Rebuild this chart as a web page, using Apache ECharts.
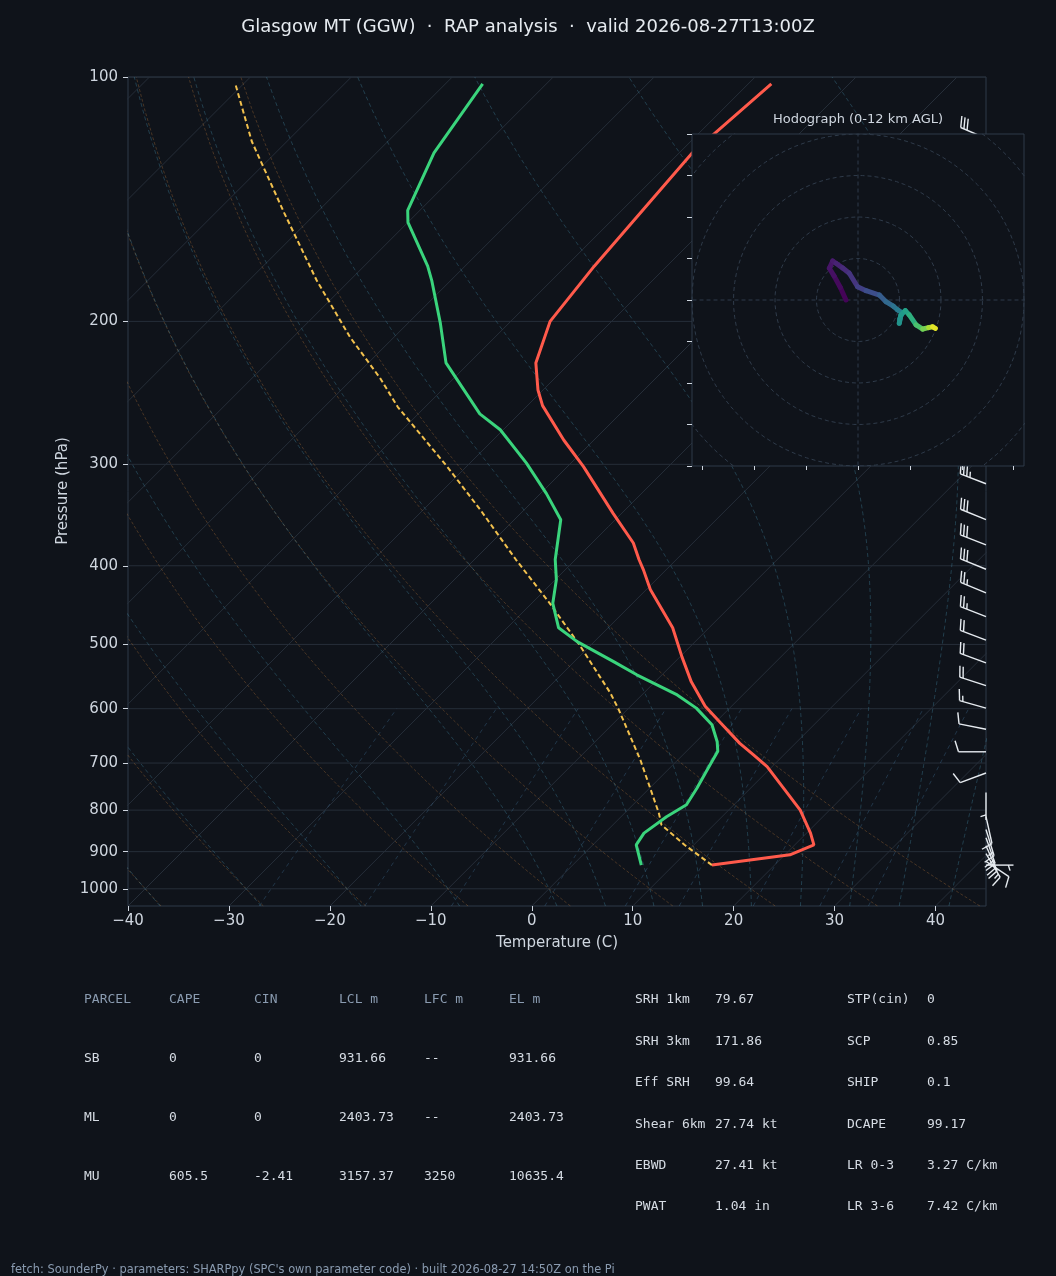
<!DOCTYPE html>
<html>
<head>
<meta charset="utf-8">
<script src="https://cdn.jsdelivr.net/npm/echarts@6/dist/echarts.min.js"></script>
<style>
  html, body { margin: 0; padding: 0; background: #0f131a; }
  #chart { width: 1056px; height: 1276px; }
</style>
</head>
<body>
<div id="chart"></div>
<script>
// ---- sounding (surface first) ----
const tempP = [935, 908, 883, 854, 800, 752, 707, 684, 662, 625, 596, 556, 518, 477, 428, 405, 393, 375, 345, 302, 280, 254, 243, 225, 200, 171, 124, 102];
const tempC = [13.8, 20.5, 21.9, 20.4, 17.1, 13.3, 9.5, 7.0, 4.5, 0.6, -2.6, -6.4, -9.8, -13.6, -19.6, -22.2, -23.7, -25.9, -30.8, -38.4, -43.0, -48.5, -50.5, -53.4, -56.1, -57.2, -58.7, -57.7];

const dewP = [935, 883, 854, 815, 788, 752, 714, 677, 659, 628, 599, 577, 545, 525, 496, 477, 445, 416, 393, 351, 326, 299, 272, 260, 225, 201, 178, 171, 151, 146, 124, 102];
const dewC = [6.8, 4.3, 3.9, 4.5, 5.3, 4.7, 3.9, 3.1, 2.1, -0.1, -3.3, -6.5, -12.5, -16.1, -21.7, -24.9, -27.9, -29.9, -32.0, -35.4, -39.4, -44.4, -50.3, -53.9, -62.3, -66.8, -71.9, -73.7, -80.0, -81.2, -84.3, -86.3];

const parcelP = [935, 883, 834, 807, 694, 602, 574, 501, 445, 393, 341, 302, 255, 235, 209, 178, 147, 120, 102];
const parcelC = [13.8, 9.1, 4.8, 3.4, -3.7, -10.8, -13.3, -21.1, -28.2, -35.9, -44.4, -51.9, -62.7, -67.3, -74.4, -83.3, -93.2, -103.5, -110.8];

// wind barbs (kt)
const barbP = [935, 925, 905, 885, 865, 845, 815, 761, 720, 678, 636, 599, 562, 527, 494, 462, 432, 404, 377, 351, 317, 290, 265, 243, 222, 203, 186, 170, 155, 142, 130, 119];
const barbU = [-6, -9, -9, -8, -6, -4, -2, 0, 9.4, 10, 10, 14, 17, 19, 21, 23, 24, 26, 28, 28, 31, 33, 35, 36, 37, 36, 35, 34, 33, 32, 30, 28];
const barbV = [0, 6, 15, 18, 17, 13, 9, 5, 3.5, 0, -2, -4, -5.5, -7, -8, -9, -10, -10.5, -11, -11.5, -12, -13, -13, -14, -14, -14, -13, -13, -13, -12, -12, -12];

// hodograph trace (kt) and height AGL (km)
const hodoU = [-5.8, -8.5, -11.5, -13.8, -12.2, -10.6, -7.5, -4.2, -0.2, 3.9, 10.3, 13.5, 17, 19.1, 21.2, 20.2, 19.9, 20.7, 22.8, 24.7, 28, 31.2, 34, 36, 37.3];
const hodoV = [0, 6, 11.5, 15.3, 18.8, 17.7, 15.5, 12.9, 6.4, 4.5, 2.4, -0.8, -3, -4.8, -6.1, -9, -11.2, -7.2, -5.1, -7.2, -12, -14, -13.3, -12.9, -13.7];
const hodoZ = [0, 0.2, 0.4, 0.6, 0.8, 1.0, 1.3, 1.6, 2.0, 2.5, 3.2, 3.8, 4.3, 4.8, 5.3, 5.7, 6.0, 6.3, 6.7, 7.2, 8.0, 9.0, 10.0, 11.0, 12.0];

// axes / reference lines
const PRESSURE_TICKS = [100, 200, 300, 400, 500, 600, 700, 800, 900, 1000];
const TEMP_TICKS = [-40, -30, -20, -10, 0, 10, 20, 30, 40];
const ISOTHERMS = [-120, -110, -100, -90, -80, -70, -60, -50, -40, -30, -20, -10, 0, 10, 20, 30, 40];
const DRY_T0 = [-40, -30, -20, -10, 0, 10, 20, 30, 40];
const MOIST_T0 = [-40, -30, -20, -10, 0, 5, 10, 15, 20, 25, 30, 35, 40, 45];
const MIXING_RATIOS = [0.0004, 0.001, 0.002, 0.004, 0.007, 0.01, 0.016, 0.024, 0.032];
const HODO_RINGS = [20, 40, 60, 80, 100];
const HODO_U_TICKS = [-75, -50, -25, 0, 25, 50, 75];
const HODO_V_TICKS = [-80, -60, -40, -20, 0, 20, 40, 60, 80];
const VIRIDIS = ['#440154', '#482878', '#3e4989', '#31688e', '#26828e', '#1f9e89', '#35b779', '#6ece58', '#b5de2b', '#fde725'];

// table
const parcelHeader = ['PARCEL', 'CAPE', 'CIN', 'LCL m', 'LFC m', 'EL m'];
const parcelRows = [
  ['SB', '0', '0', '931.66', '--', '931.66'],
  ['ML', '0', '0', '2403.73', '--', '2403.73'],
  ['MU', '605.5', '-2.41', '3157.37', '3250', '10635.4']
];
const kinLabels = ['SRH 1km', 'SRH 3km', 'Eff SRH', 'Shear 6km', 'EBWD', 'PWAT'];
const kinValues = ['79.67', '171.86', '99.64', '27.74 kt', '27.41 kt', '1.04 in'];
const thermoLabels = ['STP(cin)', 'SCP', 'SHIP', 'DCAPE', 'LR 0-3', 'LR 3-6'];
const thermoValues = ['0', '0.85', '0.1', '99.17', '3.27 C/km', '7.42 C/km'];

const TITLE = 'Glasgow MT (GGW)  \u00b7  RAP analysis  \u00b7  valid 2026-08-27T13:00Z';
const FOOTER = "fetch: SounderPy \u00b7 parameters: SHARPpy (SPC's own parameter code) \u00b7 built 2026-08-27 14:50Z on the Pi";

// ---- layout ----
const BG = '#0f131a';
const FRAME = '#2e3a48';
const TXT = '#cfd6df';
const PMIN = 100, PMAX = 1050, TMIN = -40, TMAX = 45;
const MAIN = { left: 128, top: 77, width: 858, height: 829 };
const HODO = { left: 692, top: 134, width: 332, height: 332 };
const LOGTOP = Math.log10(PMIN), LOGBOT = Math.log10(PMAX);
// skew so isotherms run at 45 degrees on screen
const SKEW = (MAIN.height / (LOGBOT - LOGTOP)) / (MAIN.width / (TMAX - TMIN));
const skewX = (t, p) => t + SKEW * Math.log10(PMAX / p);
const pt = (t, p) => [skewX(t, p), Math.log10(p)];

// thermodynamic helpers for the background curves
const RD = 287.04749, LV = 2.50084e6, CPD = 1004.666, EPS = 0.6219569;
const satVap = tk => 6.112 * Math.exp(17.67 * (tk - 273.15) / (tk - 29.65));
const satMix = (p, tk) => { const es = satVap(tk); return EPS * es / (p - es); };
const moistRate = (p, tk) => {
  const rs = satMix(p, tk);
  return (RD * tk + LV * rs) / (CPD + LV * LV * rs * EPS / (RD * tk * tk)) / p;
};
function moistCurve(t0) {
  const walk = (pEnd, h) => {
    let p = 1000, t = t0 + 273.15;
    const out = [[p, t]];
    while (h < 0 ? p > pEnd + 1e-6 : p < pEnd - 1e-6) {
      const k1 = moistRate(p, t);
      const k2 = moistRate(p + h / 2, t + h / 2 * k1);
      const k3 = moistRate(p + h / 2, t + h / 2 * k2);
      const k4 = moistRate(p + h, t + h * k3);
      t += h / 6 * (k1 + 2 * k2 + 2 * k3 + k4);
      p += h;
      out.push([p, t]);
    }
    return out;
  };
  const up = walk(PMIN, -5), down = walk(PMAX, 5);
  return down.reverse().concat(up.slice(1)).map(([p, t]) => pt(t - 273.15, p));
}
function dryCurve(t0) {
  const out = [];
  for (let p = PMAX; p >= PMIN; p -= 10) out.push(pt((t0 + 273.15) * Math.pow(p / 1000, 0.2857) - 273.15, p));
  return out;
}
function mixingCurve(w) {
  const out = [];
  for (let p = PMAX; p >= 600; p -= 50) {
    const l = Math.log((p * w / (EPS + w)) / 6.112);
    out.push(pt(243.5 * l / (17.67 - l), p));
  }
  return out;
}

const bgLine = (data, color, type, z) => ({
  type: 'line', xAxisIndex: 0, yAxisIndex: 0, data, silent: true,
  symbol: 'none', z: z || 1, lineStyle: { color, width: 1, type }
});

const series = [];
PRESSURE_TICKS.forEach(p => series.push(bgLine([[TMIN, Math.log10(p)], [TMAX, Math.log10(p)]], '#262e39', 'solid')));
ISOTHERMS.forEach(t => series.push(bgLine([pt(t, PMAX), pt(t, PMIN)], '#262e39', 'solid')));
DRY_T0.forEach(t => series.push(bgLine(dryCurve(t), 'rgba(190,125,60,0.33)', [3, 2])));
MOIST_T0.forEach(t => series.push(bgLine(moistCurve(t), 'rgba(70,140,170,0.36)', [4, 3])));
MIXING_RATIOS.forEach(w => series.push(bgLine(mixingCurve(w), 'rgba(70,120,160,0.35)', [4, 4])));

// profiles
series.push({
  type: 'line', name: 'Parcel', data: parcelP.map((p, i) => pt(parcelC[i], p)), symbol: 'none', z: 3,
  lineStyle: { color: '#f2c14e', width: 2, type: [5, 3] }
});
series.push({
  type: 'line', name: 'Dewpoint', data: dewP.map((p, i) => pt(dewC[i], p)), symbol: 'none', z: 3,
  lineStyle: { color: '#3ad47c', width: 3 }
});
series.push({
  type: 'line', name: 'Temperature', data: tempP.map((p, i) => pt(tempC[i], p)), symbol: 'none', z: 3,
  lineStyle: { color: '#ff5a4b', width: 3 }
});

// wind barbs, matplotlib-style geometry (pixels)
const BARB_LEN = 27.5, BH = 0.4 * BARB_LEN, BW = 0.25 * BARB_LEN, BS = 0.125 * BARB_LEN;
const barbStyle = { stroke: '#e6ebf0', lineWidth: 1.4, fill: null };
function renderBarb(params, api) {
  const a = api.coord([api.value(0), api.value(1)]);
  const u = api.value(2), v = api.value(3);
  const s = Math.hypot(u, v);
  const dx = -u / s, dy = v / s;   // staff points to where the wind comes from
  const nx = -v / s, ny = -u / s;  // side the barbs hang on
  const at = (along, side) => [a[0] + dx * along + nx * side, a[1] + dy * along + ny * side];
  let rest = Math.round(s / 5) * 5;
  const flags = Math.floor(rest / 50); rest -= flags * 50;
  const full = Math.floor(rest / 10); rest -= full * 10;
  const half = rest >= 5;
  const kids = [{ type: 'polyline', shape: { points: [at(0, 0), at(BARB_LEN, 0)] }, style: barbStyle }];
  let off = BARB_LEN;
  for (let i = 0; i < flags; i++) {
    kids.push({ type: 'polygon', shape: { points: [at(off, 0), at(off - BW / 2, BH), at(off - BW, 0)] }, style: { fill: '#e6ebf0' } });
    off -= BW + BS;
  }
  for (let i = 0; i < full; i++) {
    kids.push({ type: 'polyline', shape: { points: [at(off, 0), at(off + BW / 2, BH)] }, style: barbStyle });
    off -= BS;
  }
  if (half) {
    if (off === BARB_LEN) off -= 1.5 * BS;
    kids.push({ type: 'polyline', shape: { points: [at(off, 0), at(off + BW / 4, BH / 2)] }, style: barbStyle });
  }
  return { type: 'group', children: kids };
}
series.push({
  type: 'custom', name: 'Wind', xAxisIndex: 0, yAxisIndex: 0, clip: false, z: 4, silent: true,
  encode: { x: 0, y: 1 },
  data: barbP.map((p, i) => [TMAX, Math.log10(p), barbU[i], barbV[i]]),
  renderItem: renderBarb
});

// hodograph
const ringLine = r => {
  const out = [];
  for (let a = 0; a <= 360; a += 4) out.push([r * Math.cos(a * Math.PI / 180), r * Math.sin(a * Math.PI / 180)]);
  return out;
};
const hodoBg = (data) => ({
  type: 'line', xAxisIndex: 1, yAxisIndex: 1, data, silent: true, symbol: 'none', z: 11,
  lineStyle: { color: '#2f3b4a', width: 1, type: [4, 3] }
});
HODO_RINGS.forEach(r => series.push(hodoBg(ringLine(r))));
series.push(hodoBg([[-100, 0], [100, 0]]));
series.push(hodoBg([[0, -100], [0, 100]]));

// viridis colour for a 0..1 fraction
function viridisAt(f) {
  const x = Math.max(0, Math.min(1, f)) * (VIRIDIS.length - 1);
  const i = Math.min(Math.floor(x), VIRIDIS.length - 2), k = x - i;
  const c0 = echarts.color.parse(VIRIDIS[i]), c1 = echarts.color.parse(VIRIDIS[i + 1]);
  return 'rgb(' + [0, 1, 2].map(j => Math.round(c0[j] + (c1[j] - c0[j]) * k)).join(',') + ')';
}
const zTop = hodoZ[hodoZ.length - 1];
for (let i = 0; i < hodoU.length - 1; i++) {
  series.push({
    type: 'line', xAxisIndex: 1, yAxisIndex: 1, z: 12, symbol: 'none', silent: true,
    data: [[hodoU[i], hodoV[i]], [hodoU[i + 1], hodoV[i + 1]]],
    lineStyle: { width: 5, cap: 'round', color: viridisAt((hodoZ[i] + hodoZ[i + 1]) / 2 / zTop) }
  });
}

// text
const graphic = [];
const addText = (x, y, text, fill, font, align) => graphic.push({
  type: 'text', x, y, z: 30, silent: true,
  style: { text, fill, font, textAlign: align || 'left', textVerticalAlign: 'middle' }
});
addText(528, 27, TITLE, '#e6ebf0', '18px "DejaVu Sans"', 'center');
addText(557, 943, 'Temperature (C)', TXT, '15px "DejaVu Sans"', 'center');
graphic.push({
  type: 'text', x: 63, y: 491, rotation: Math.PI / 2, z: 30, silent: true,
  style: { text: 'Pressure (hPa)', fill: TXT, font: '15px "DejaVu Sans"', textAlign: 'center', textVerticalAlign: 'middle' }
});
addText(858, 120, 'Hodograph (0-12 km AGL)', TXT, '13px "DejaVu Sans"', 'center');

const MONO = '13px "DejaVu Sans Mono"';
const colX = [84, 169, 254, 339, 424, 509];
parcelHeader.forEach((h, c) => addText(colX[c], 1000, h, '#8a9bb0', MONO));
parcelRows.forEach((row, r) => row.forEach((cell, c) => addText(colX[c], 1059 + r * 59, cell, '#d6dce4', MONO)));
kinLabels.forEach((l, r) => {
  const y = 1000 + r * 41.4;
  addText(635, y, l, '#d6dce4', MONO);
  addText(715, y, kinValues[r], '#d6dce4', MONO);
  addText(847, y, thermoLabels[r], '#d6dce4', MONO);
  addText(927, y, thermoValues[r], '#d6dce4', MONO);
});
addText(11, 1270, FOOTER, '#8a9bb0', '11.4px "DejaVu Sans"');

const minus = v => (v < 0 ? '\u2212' + Math.abs(v) : String(v));
const tickStyle = { show: true, length: 5, lineStyle: { color: TXT, width: 1 } };
const noLine = { show: false, onZero: false };

const option = {
  backgroundColor: BG,
  animation: false,
  grid: [
    Object.assign({ show: true, borderColor: FRAME, borderWidth: 1, backgroundColor: BG, containLabel: false, outerBoundsMode: 'none', z: 0 }, MAIN),
    Object.assign({ show: true, borderColor: FRAME, borderWidth: 1, backgroundColor: BG, containLabel: false, outerBoundsMode: 'none', z: 10 }, HODO)
  ],
  xAxis: [
    {
      type: 'value', gridIndex: 0, min: TMIN, max: TMAX, position: 'bottom',
      axisLine: noLine, splitLine: { show: false },
      axisTick: Object.assign({ customValues: TEMP_TICKS }, tickStyle),
      axisLabel: { customValues: TEMP_TICKS, formatter: minus, color: TXT, fontSize: 15, fontFamily: 'DejaVu Sans', margin: 8 }
    },
    {
      type: 'value', gridIndex: 1, min: -80, max: 80, z: 12, position: 'bottom',
      axisLine: noLine, splitLine: { show: false },
      axisTick: { show: true, length: 4, customValues: HODO_U_TICKS, lineStyle: { color: TXT } },
      axisLabel: { show: false, customValues: HODO_U_TICKS }
    }
  ],
  yAxis: [
    {
      type: 'value', gridIndex: 0, min: LOGTOP, max: LOGBOT, inverse: true, position: 'left',
      axisLine: noLine, splitLine: { show: false },
      axisTick: Object.assign({ customValues: PRESSURE_TICKS.map(Math.log10) }, tickStyle),
      axisLabel: {
        customValues: PRESSURE_TICKS.map(Math.log10),
        formatter: v => String(Math.round(Math.pow(10, v))),
        color: TXT, fontSize: 15, fontFamily: 'DejaVu Sans', margin: 10
      }
    },
    {
      type: 'value', gridIndex: 1, min: -80, max: 80, z: 12, position: 'left',
      axisLine: noLine, splitLine: { show: false },
      axisTick: { show: true, length: 5, customValues: HODO_V_TICKS, lineStyle: { color: TXT } },
      axisLabel: { show: false, customValues: HODO_V_TICKS }
    }
  ],
  series,
  graphic
};

const chart = echarts.init(document.getElementById('chart'), null, { renderer: 'canvas' });
chart.setOption(option);
</script>
</body>
</html>
